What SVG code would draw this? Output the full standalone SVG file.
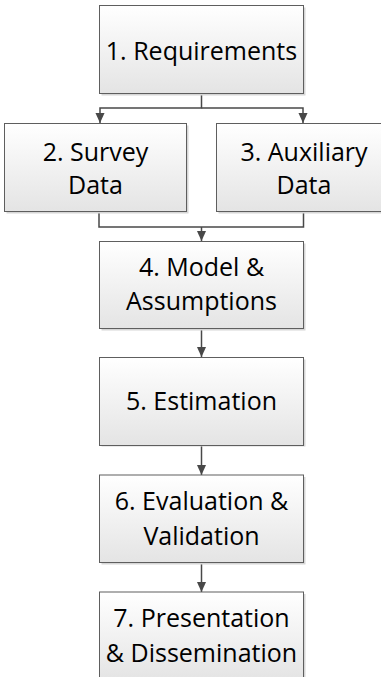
<svg xmlns="http://www.w3.org/2000/svg" width="381" height="677" viewBox="0 0 381 677">
<defs>
<linearGradient id="g" x1="0" y1="0" x2="0" y2="1">
<stop offset="0" stop-color="#ffffff"/>
<stop offset="1" stop-color="#e4e4e4"/>
</linearGradient>
<marker id="ah" markerUnits="userSpaceOnUse" markerWidth="10" markerHeight="11" refX="11" refY="5" orient="auto" viewBox="0 0 11 10">
<path d="M0,0 L11,5 L0,10 z" fill="#484848"/>
</marker>
</defs>
<style>
.box{fill:url(#g);stroke:#5e5e5e;stroke-width:1}
.sh{fill:#d6d6d6}
.t{font-family:"Open Sans","Noto Sans",sans-serif;font-size:25px;fill:#000;text-anchor:middle}
.c{fill:none;stroke:#484848;stroke-width:1.5}
</style>
<g id="connectors">
<path class="c" d="M201.5,93.5 V108 H100 V123" marker-end="url(#ah)"/>
<path class="c" d="M201.5,108 H303 V123" marker-end="url(#ah)"/>
<path class="c" d="M99,211.5 V227 H303.5 V211.5"/>
<path class="c" d="M201.5,227 V241" marker-end="url(#ah)"/>
<path class="c" d="M201.5,329 V357" marker-end="url(#ah)"/>
<path class="c" d="M201.5,446 V475" marker-end="url(#ah)"/>
<path class="c" d="M201.5,563 V592" marker-end="url(#ah)"/>
</g>
<g id="n1">
<rect class="sh" x="101.5" y="7.5" width="204" height="88"/>
<rect class="box" x="99.5" y="5.5" width="204" height="88"/>
<text class="t" x="201.5" y="59.5">1. Requirements</text>
</g>
<g id="n2">
<rect class="sh" x="6.5" y="125.5" width="182" height="88"/>
<rect class="box" x="4.5" y="123.5" width="182" height="88"/>
<text class="t" x="95.5" y="161">2. Survey</text>
<text class="t" x="95.5" y="194">Data</text>
</g>
<g id="n3">
<rect class="sh" x="218.5" y="125.5" width="175" height="88"/>
<rect class="box" x="216.5" y="123.5" width="175" height="88"/>
<text class="t" x="304" y="161">3. Auxiliary</text>
<text class="t" x="304" y="194">Data</text>
</g>
<g id="n4">
<rect class="sh" x="101.5" y="243.5" width="204" height="87"/>
<rect class="box" x="99.5" y="241.5" width="204" height="87"/>
<text class="t" x="201.5" y="275.5">4. Model &amp;</text>
<text class="t" x="201.5" y="310">Assumptions</text>
</g>
<g id="n5">
<rect class="sh" x="101.5" y="359.5" width="204" height="87"/>
<rect class="box" x="99.5" y="357.5" width="204" height="88"/>
<text class="t" x="201.5" y="410">5. Estimation</text>
</g>
<g id="n6">
<rect class="sh" x="101.5" y="477" width="204" height="87.5"/>
<rect class="box" x="99.5" y="475" width="204" height="87.5"/>
<text class="t" x="201.5" y="509.5">6. Evaluation &amp;</text>
<text class="t" x="201.5" y="544.5">Validation</text>
</g>
<g id="n7">
<rect class="sh" x="101.5" y="594" width="204" height="88"/>
<rect class="box" x="99.5" y="592" width="204" height="88"/>
<text class="t" x="201.5" y="626.5">7. Presentation</text>
<text class="t" x="201.5" y="661.5">&amp; Dissemination</text>
</g>
</svg>
